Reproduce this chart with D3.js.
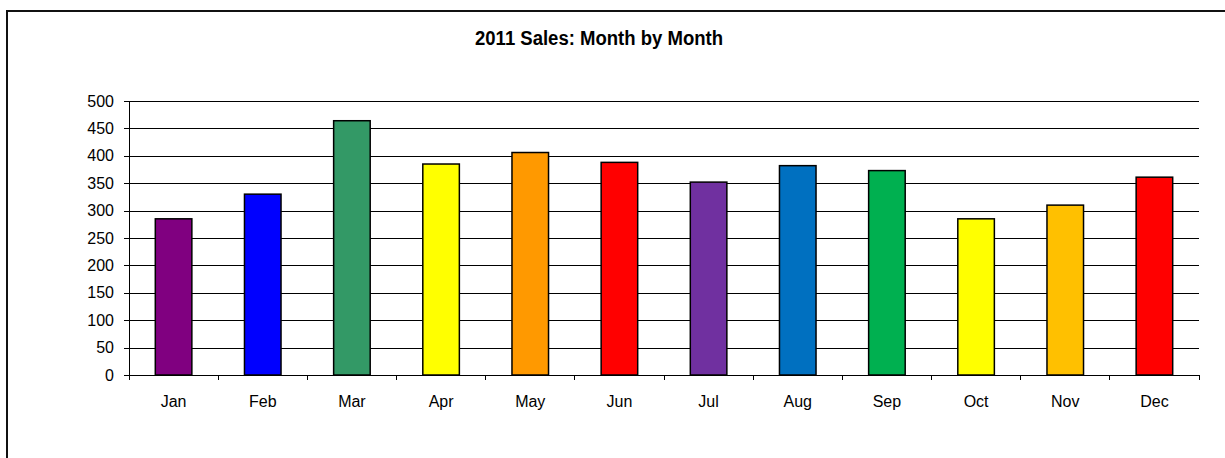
<!DOCTYPE html>
<html>
<head>
<meta charset="utf-8">
<script src="https://cdn.jsdelivr.net/npm/d3@7"></script>
<style>
  html, body { margin: 0; padding: 0; background: #fff; }
  svg { display: block; }
  text { font-family: Arial, "Liberation Sans", sans-serif; fill: #000; }
</style>
</head>
<body>
<svg id="chart" width="1225" height="458"></svg>
<script>
// Monthly sales for 2011
const months = ["Jan", "Feb", "Mar", "Apr", "May", "Jun", "Jul", "Aug", "Sep", "Oct", "Nov", "Dec"];
const sales = [285, 330, 464, 385, 406, 388, 352, 382, 373, 285, 310, 361];
const barColors = ["#800080", "#0000FF", "#339966", "#FFFF00", "#FF9900", "#FF0000",
                   "#7030A0", "#0070C0", "#00B050", "#FFFF00", "#FFC000", "#FF0000"];
const yTicks = [0, 50, 100, 150, 200, 250, 300, 350, 400, 450, 500];
const chartTitle = "2011 Sales: Month by Month";

const svg = d3.select("#chart");
const plot = { left: 129, right: 1199, top: 101, bottom: 375 };
const labelFont = "Arial, 'Liberation Sans', sans-serif";

// Outer chart frame
svg.append("rect")
  .attr("x", 7).attr("y", 11)
  .attr("width", 1240).attr("height", 470)
  .attr("fill", "none").attr("stroke", "#111").attr("stroke-width", 2);

// Title
svg.append("text")
  .attr("x", 599).attr("y", 45)
  .attr("text-anchor", "middle")
  .attr("font-size", 20).attr("font-weight", "bold")
  .attr("textLength", 248).attr("lengthAdjust", "spacingAndGlyphs")
  .text(chartTitle);

const x = d3.scaleBand()
  .domain(months)
  .range([plot.left, plot.right])
  .paddingInner(0.59)
  .paddingOuter(0.295);

const y = d3.scaleLinear()
  .domain([0, 500])
  .range([plot.bottom, plot.top]);

// Horizontal gridlines + y axis labels
const yAxis = svg.append("g")
  .attr("transform", `translate(${plot.left},0)`)
  .call(d3.axisLeft(y).tickValues(yTicks).tickSizeInner(-(plot.right - plot.left)).tickSizeOuter(0).tickPadding(15));
yAxis.select(".domain").remove();
yAxis.selectAll(".tick line").attr("stroke", "#000").attr("stroke-width", 1).attr("shape-rendering", "crispEdges");
yAxis.selectAll(".tick text").attr("font-size", 16).attr("font-family", labelFont);
// small outward tick marks on the value axis
yAxis.selectAll(".tick").append("line")
  .attr("x1", -5).attr("x2", 0).attr("stroke", "#000").attr("shape-rendering", "crispEdges");

// Bars
svg.append("g").selectAll("rect")
  .data(months)
  .join("rect")
  .attr("x", d => x(d))
  .attr("y", (d, i) => y(sales[i]))
  .attr("width", x.bandwidth())
  .attr("height", (d, i) => y(0) - y(sales[i]))
  .attr("fill", (d, i) => barColors[i])
  .attr("stroke", "#000")
  .attr("stroke-width", 1.5);

// Value axis line
svg.append("line")
  .attr("x1", plot.left).attr("x2", plot.left)
  .attr("y1", plot.top).attr("y2", plot.bottom)
  .attr("stroke", "#000").attr("shape-rendering", "crispEdges");

// Category axis with tick marks between months
const step = x.step();
const xAxis = svg.append("g")
  .attr("transform", `translate(0,${plot.bottom})`)
  .call(d3.axisBottom(x).tickSize(0).tickPadding(21));
xAxis.select(".domain").attr("stroke", "#000").attr("shape-rendering", "crispEdges");
xAxis.selectAll(".tick text").attr("font-size", 16).attr("font-family", labelFont);
xAxis.selectAll("line.sep")
  .data(d3.range(months.length + 1))
  .join("line")
  .attr("class", "sep")
  .attr("x1", i => plot.left + i * step).attr("x2", i => plot.left + i * step)
  .attr("y1", 0).attr("y2", 5)
  .attr("stroke", "#000").attr("shape-rendering", "crispEdges");
</script>
</body>
</html>
